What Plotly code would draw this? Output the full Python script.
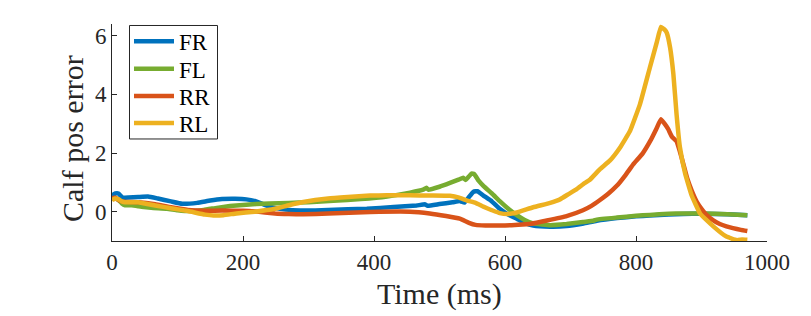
import plotly.graph_objects as go

# ---- data ----
t_FR = [0, 5, 10, 16, 25, 40, 55, 70, 90, 107, 130, 150, 168, 188, 205, 220, 236, 250, 265, 287, 320, 360, 389, 430, 465, 478, 482, 500, 520, 531, 538, 545, 552, 558, 567, 580, 592, 605, 618, 630, 643, 669, 694, 720, 740, 771, 800, 821, 850, 872, 900, 940, 970]
FR = [0.55, 0.62, 0.62, 0.48, 0.48, 0.50, 0.52, 0.45, 0.35, 0.27, 0.30, 0.38, 0.43, 0.44, 0.42, 0.35, 0.21, 0.12, 0.07, 0.04, 0.05, 0.08, 0.10, 0.16, 0.21, 0.25, 0.20, 0.26, 0.32, 0.36, 0.31, 0.50, 0.68, 0.70, 0.55, 0.35, 0.10, -0.10, -0.24, -0.38, -0.47, -0.51, -0.49, -0.40, -0.31, -0.22, -0.16, -0.13, -0.10, -0.08, -0.07, -0.09, -0.12]

t_FL = [0, 5, 10, 15, 20, 30, 45, 60, 84, 100, 120, 140, 160, 180, 200, 220, 240, 270, 300, 338, 380, 420, 455, 475, 480, 483, 500, 516, 530, 536, 540, 544, 549, 553, 560, 567, 580, 592, 605, 618, 630, 643, 669, 694, 719, 735, 740, 771, 800, 821, 850, 872, 900, 940, 970]
FL = [0.45, 0.45, 0.40, 0.28, 0.22, 0.22, 0.17, 0.13, 0.10, 0.05, 0.02, 0.06, 0.13, 0.19, 0.23, 0.26, 0.28, 0.30, 0.32, 0.37, 0.43, 0.52, 0.65, 0.75, 0.82, 0.75, 0.85, 0.98, 1.10, 1.16, 1.08, 1.18, 1.30, 1.28, 1.05, 0.88, 0.62, 0.36, 0.10, -0.12, -0.28, -0.40, -0.46, -0.42, -0.35, -0.31, -0.27, -0.20, -0.14, -0.11, -0.07, -0.06, -0.06, -0.09, -0.12]

t_RR = [0, 5, 10, 15, 25, 40, 66, 90, 116, 140, 168, 200, 218, 249, 270, 292, 330, 394, 455, 485, 510, 531, 545, 555, 570, 600, 620, 640, 664, 694, 719, 732, 745, 758, 771, 784, 796, 810, 822, 831, 838, 843, 849, 855, 862, 867, 872, 878, 885, 893, 900, 908, 918, 928, 938, 948, 960, 970]
RR = [0.45, 0.48, 0.40, 0.35, 0.33, 0.32, 0.25, 0.15, 0.06, 0.03, 0.04, 0.03, 0.01, -0.06, -0.08, -0.09, -0.06, -0.01, 0.00, -0.06, -0.15, -0.24, -0.38, -0.45, -0.47, -0.47, -0.45, -0.41, -0.30, -0.15, 0.05, 0.20, 0.40, 0.62, 0.89, 1.25, 1.62, 1.98, 2.42, 2.82, 3.15, 3.02, 2.82, 2.55, 2.40, 2.05, 1.65, 1.15, 0.72, 0.33, 0.10, -0.12, -0.30, -0.42, -0.50, -0.56, -0.62, -0.66]

t_RL = [0, 5, 10, 15, 20, 40, 66, 90, 116, 142, 155, 170, 190, 218, 249, 270, 292, 330, 360, 394, 420, 455, 485, 516, 530, 542, 555, 567, 580, 592, 605, 618, 643, 669, 684, 697, 710, 720, 730, 745, 760, 776, 791, 806, 821, 832, 838, 844, 847, 852, 857, 862, 867, 875, 885, 898, 918, 938, 954, 962, 970]
RL = [0.40, 0.45, 0.42, 0.35, 0.32, 0.32, 0.21, 0.12, 0.02, -0.10, -0.13, -0.12, -0.06, 0.00, 0.10, 0.22, 0.33, 0.45, 0.50, 0.55, 0.56, 0.56, 0.55, 0.54, 0.48, 0.38, 0.30, 0.17, 0.05, -0.05, -0.08, -0.03, 0.15, 0.30, 0.42, 0.60, 0.78, 0.95, 1.10, 1.45, 1.74, 2.20, 2.76, 3.66, 4.90, 5.80, 6.30, 6.20, 6.10, 5.60, 4.70, 3.30, 2.20, 1.30, 0.55, -0.07, -0.50, -0.85, -0.97, -0.95, -0.96]

names = ["FR", "FL", "RR", "RL"]
colors = ["#0072BD", "#77AC30", "#D95319", "#EDB120"]
x_ticks = [0, 200, 400, 600, 800, 1000]
y_ticks = [0, 2, 4, 6]
x_label = "Time (ms)"
y_label = "Calf pos error"

series = [(t_FR, FR), (t_FL, FL), (t_RR, RR), (t_RL, RL)]

# layout geometry (pixels)
W, H = 811, 316
L, R, T, B = 112, 44, 23.5, 74.5
PW, PH = W - L - R, H - T - B

def px_to_paper_x(px):
    return (px - L) / PW

def py_to_paper_y(py):
    return (H - B - py) / PH

font_family = "Liberation Serif"
axis_color = "#262626"

legend_ids = ["legend", "legend2", "legend3", "legend4"]
legend_rows = [41, 68.5, 96, 123]

fig = go.Figure()
for (tx, vy), nm, c, lid in zip(series, names, colors, legend_ids):
    fig.add_trace(go.Scatter(x=tx, y=vy, mode="lines", name=nm, legend=lid,
                             line=dict(color=c, width=4.5, shape="spline", smoothing=0.3)))

layout_legends = {}
for lid, row in zip(legend_ids, legend_rows):
    layout_legends[lid] = dict(
        x=px_to_paper_x(129), y=py_to_paper_y(row), xanchor="left", yanchor="middle",
        bgcolor="rgba(0,0,0,0)", borderwidth=0, itemwidth=40,
        font=dict(family=font_family, size=23, color="black"))

fig.update_layout(
    width=W, height=H,
    margin=dict(l=L, r=R, t=T, b=B, autoexpand=False),
    paper_bgcolor="white", plot_bgcolor="white",
    font=dict(family=font_family, size=23, color=axis_color),
    showlegend=True,
    **layout_legends,
)

# legend frame
fig.add_shape(type="rect", xref="paper", yref="paper", layer="above",
              x0=px_to_paper_x(129.5), x1=px_to_paper_x(217.5),
              y0=py_to_paper_y(139), y1=py_to_paper_y(25),
              line=dict(color=axis_color, width=1), fillcolor="white")

# axis titles
fig.add_annotation(text=x_label, xref="paper", yref="paper", x=0.5, y=py_to_paper_y(295),
                   xanchor="center", yanchor="middle", showarrow=False,
                   font=dict(family=font_family, size=30, color=axis_color))
fig.add_annotation(text=y_label, xref="paper", yref="paper", x=px_to_paper_x(73), y=py_to_paper_y(139),
                   xanchor="center", yanchor="middle", showarrow=False, textangle=-90,
                   font=dict(family=font_family, size=30, color=axis_color))

fig.update_xaxes(range=[0, 1000], tickvals=x_ticks, ticktext=[str(v) for v in x_ticks],
                 showgrid=False, zeroline=False, showline=True, linecolor=axis_color, linewidth=1,
                 ticks="inside", ticklen=5, tickcolor=axis_color, automargin=False,
                 tickfont=dict(size=23))
fig.update_yaxes(range=[-1, 6.4], tickvals=y_ticks, ticktext=[str(v) for v in y_ticks],
                 showgrid=False, zeroline=False, showline=True, linecolor=axis_color, linewidth=1,
                 ticks="inside", ticklen=5, tickcolor=axis_color, automargin=False,
                 tickfont=dict(size=23))

fig.write_html("out.html", post_script="document.body.style.margin='0';",
               config={"displayModeBar": False})
